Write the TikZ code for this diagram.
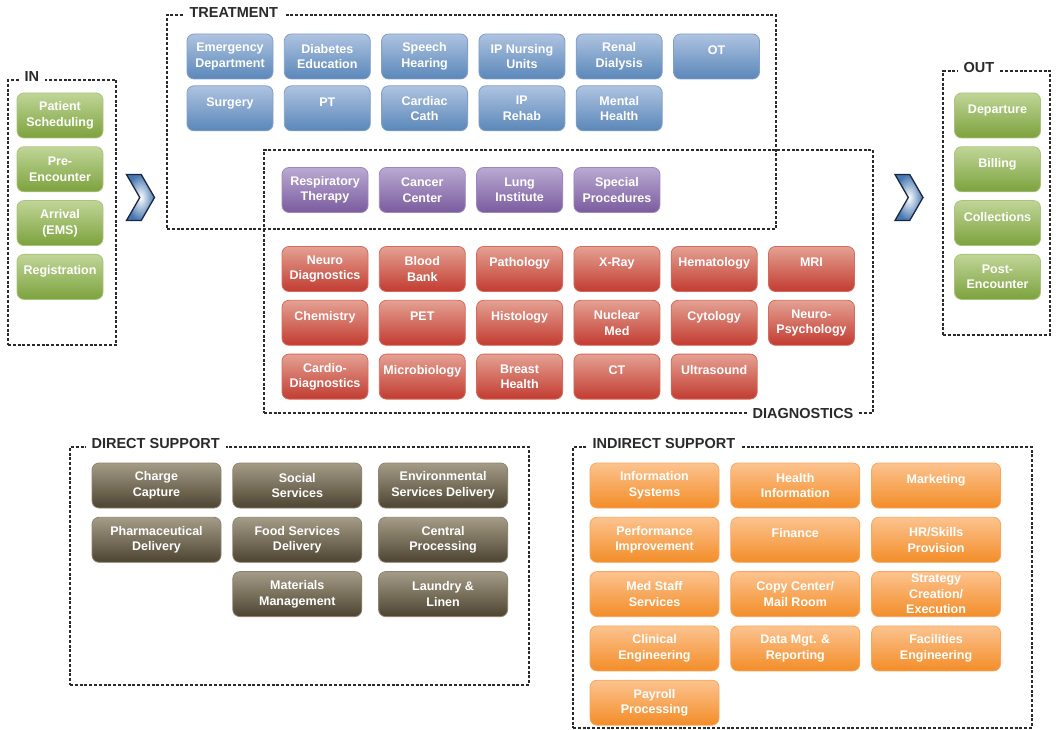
\documentclass[tikz,border=0pt]{standalone}
\usepackage{fontspec}
\setmainfont{Liberation Sans}
\usepackage{xcolor}
\usetikzlibrary{positioning, shapes.symbols}
\definecolor{frameInk}{HTML}{2A2A2A}
\definecolor{inTop}{HTML}{C0D597}
\definecolor{inBot}{HTML}{7CA23D}
\definecolor{inEdge}{HTML}{A9C47B}
\definecolor{trTop}{HTML}{AEC3E0}
\definecolor{trBot}{HTML}{5A87B9}
\definecolor{trEdge}{HTML}{819FCA}
\definecolor{spTop}{HTML}{BAAAD2}
\definecolor{spBot}{HTML}{7A5B9E}
\definecolor{spEdge}{HTML}{9C87BF}
\definecolor{dxTop}{HTML}{E4A193}
\definecolor{dxBot}{HTML}{C23B30}
\definecolor{dxEdge}{HTML}{D66A5E}
\definecolor{dsTop}{HTML}{A59C88}
\definecolor{dsBot}{HTML}{4C4330}
\definecolor{dsEdge}{HTML}{8C8371}
\definecolor{isTop}{HTML}{FCC38F}
\definecolor{isBot}{HTML}{F38D28}
\definecolor{isEdge}{HTML}{F7A75E}
\definecolor{chevBlue}{HTML}{4577B0}
\definecolor{chevInk}{HTML}{1A2740}

\begin{document}
\begin{tikzpicture}[x=1pt, y=-1pt,
        node distance=8pt and 10.5pt,
        unit/.style={rounded corners=7pt, minimum height=45pt, align=center, inner sep=2pt,
          line width=0.8pt, text=white, font=\bfseries\fontsize{12.5}{15.5}\selectfont},
        one/.style={text height=9pt, text depth=13pt},
        inbox/.style={unit, minimum width=86pt, draw=inEdge, top color=inTop, bottom color=inBot},
        trbox/.style={unit, minimum width=86pt, draw=trEdge, top color=trTop, bottom color=trBot},
        spbox/.style={unit, minimum width=86pt, draw=spEdge, top color=spTop, bottom color=spBot},
        dxbox/.style={unit, minimum width=86pt, draw=dxEdge, top color=dxTop, bottom color=dxBot},
        dsbox/.style={unit, minimum width=129pt, draw=dsEdge, top color=dsTop, bottom color=dsBot},
        isbox/.style={unit, minimum width=129pt, draw=isEdge, top color=isTop, bottom color=isBot},
        frame/.style={draw=frameInk, line width=1.2pt, dash pattern=on 3pt off 1.8pt},
        tag/.style={fill=white, inner xsep=6pt, inner ysep=1pt, text=frameInk,
          font=\bfseries\fontsize{14.5}{16}\selectfont},
        chev/.style={signal, signal to=east, signal from=west, signal pointer angle=120,
          minimum width=28pt, minimum height=46pt, inner sep=0pt, draw=chevInk, line width=1.3pt,
          inner color=white, outer color=chevBlue}]
  \useasboundingbox (0,0) rectangle (1058,730);

  \node[frame, minimum width=108pt, minimum height=265pt, inner sep=0pt] (infr) at (62,212.5) {};
  \node[frame, minimum width=107pt, minimum height=264pt, inner sep=0pt] (outfr) at (996.5,203) {};
  \node[frame, minimum width=609pt, minimum height=214pt, inner sep=0pt] (trfr) at (471.5,122) {};
  \node[frame, minimum width=609pt, minimum height=263pt, inner sep=0pt] (dxfr) at (568.5,281.5) {};
  \node[frame, minimum width=459pt, minimum height=238pt, inner sep=0pt] (dsfr) at (299.5,566) {};
  \node[frame, minimum width=459pt, minimum height=281pt, inner sep=0pt] (isfr) at (802.5,587.5) {};

  \node[tag, anchor=base west] (intag) at ([xshift=11pt, yshift=-2pt]infr.north west) {IN};
  \node[tag, anchor=base west] (outtag) at ([xshift=15pt, yshift=-2pt]outfr.north west) {OUT};
  \node[tag, anchor=base west] (trtag) at ([xshift=17pt, yshift=-3pt]trfr.north west) {TREATMENT};
  \node[tag, anchor=base east] (dxtag) at ([xshift=-14pt, yshift=-5pt]dxfr.south east) {DIAGNOSTICS};
  \node[tag, anchor=base west] (dstag) at ([xshift=16pt, yshift=-2.5pt]dsfr.north west) {DIRECT SUPPORT};
  \node[tag, anchor=base west] (istag) at ([xshift=14pt, yshift=-2.5pt]isfr.north west) {INDIRECT SUPPORT};

  \node[chev] (inchev) at (140.5,197.5) {};
  \node[chev] (outchev) at (909,197.5) {};

  \node[inbox] (sched) at (60,115.5) {Patient\\Scheduling};
  \node[inbox, below=of sched] (preenc) {Pre-\\Encounter};
  \node[inbox, below=of preenc] (arrival) {Arrival\\(EMS)};
  \node[inbox, one, below=of arrival] (regist) {Registration};

  \node[inbox, one] (depart) at (997.5,115.5) {Departure};
  \node[inbox, one, below=of depart] (billing) {Billing};
  \node[inbox, one, below=of billing] (collect) {Collections};
  \node[inbox, below=of collect] (postenc) {Post-\\Encounter};

  \node[trbox] (emerg) at (230,56.5) {Emergency\\Department};
  \node[trbox, right=of emerg] (diabetes) {Diabetes\\Education};
  \node[trbox, right=of diabetes] (speech) {Speech\\Hearing};
  \node[trbox, right=of speech] (nursing) {IP Nursing\\Units};
  \node[trbox, right=of nursing] (renal) {Renal\\Dialysis};
  \node[trbox, one, right=of renal] (ot) {OT};
  \node[trbox, one, below=6pt of emerg] (surgery) {Surgery};
  \node[trbox, one, right=of surgery] (pt) {PT};
  \node[trbox, right=of pt] (cardcath) {Cardiac\\Cath};
  \node[trbox, right=of cardcath] (rehab) {IP\\Rehab};
  \node[trbox, right=of rehab] (mental) {Mental\\Health};

  \node[spbox] (resp) at (325,190) {Respiratory\\Therapy};
  \node[spbox, right=of resp] (cancer) {Cancer\\Center};
  \node[spbox, right=of cancer] (lung) {Lung\\Institute};
  \node[spbox, right=of lung] (special) {Special\\Procedures};

  \node[dxbox] (neurodx) at (325,269) {Neuro\\Diagnostics};
  \node[dxbox, right=of neurodx] (blood) {Blood\\Bank};
  \node[dxbox, one, right=of blood] (patho) {Pathology};
  \node[dxbox, one, right=of patho] (xray) {X-Ray};
  \node[dxbox, one, right=of xray] (hemato) {Hematology};
  \node[dxbox, one, right=of hemato] (mri) {MRI};
  \node[dxbox, one, below=of neurodx] (chem) {Chemistry};
  \node[dxbox, one, right=of chem] (pet) {PET};
  \node[dxbox, one, right=of pet] (histo) {Histology};
  \node[dxbox, right=of histo] (nuclear) {Nuclear\\Med};
  \node[dxbox, one, right=of nuclear] (cyto) {Cytology};
  \node[dxbox, right=of cyto] (neuropsy) {Neuro-\\Psychology};
  \node[dxbox, below=of chem] (cardiodx) {Cardio-\\Diagnostics};
  \node[dxbox, one, right=of cardiodx] (micro) {Microbiology};
  \node[dxbox, right=of micro] (breast) {Breast\\Health};
  \node[dxbox, one, right=of breast] (ct) {CT};
  \node[dxbox, one, right=of ct] (ultra) {Ultrasound};

  \node[dsbox] (charge) at (156.5,485.5) {Charge\\Capture};
  \node[dsbox, right=11pt of charge] (social) {Social\\Services};
  \node[dsbox, right=16pt of social] (environ) {Environmental\\Services Delivery};
  \node[dsbox, below=8.5pt of charge] (pharma) {Pharmaceutical\\Delivery};
  \node[dsbox, right=11pt of pharma] (food) {Food Services\\Delivery};
  \node[dsbox, right=16pt of food] (central) {Central\\Processing};
  \node[dsbox, below=8.5pt of food] (material) {Materials\\Management};
  \node[dsbox, below=8.5pt of central] (laundry) {Laundry \&\\Linen};

  \node[isbox] (infosys) at (654.5,485.5) {Information\\Systems};
  \node[isbox, right=11pt of infosys] (healthinfo) {Health\\Information};
  \node[isbox, one, right=11pt of healthinfo] (market) {Marketing};
  \node[isbox, below=8.5pt of infosys] (perform) {Performance\\Improvement};
  \node[isbox, one, right=11pt of perform] (finance) {Finance};
  \node[isbox, right=11pt of finance] (hrskill) {HR/Skills\\Provision};
  \node[isbox, below=8.5pt of perform] (medstaff) {Med Staff\\Services};
  \node[isbox, right=11pt of medstaff] (copy) {Copy Center/\\Mail Room};
  \node[isbox, right=11pt of copy] (strategy) {Strategy\\Creation/\\Execution};
  \node[isbox, below=8.5pt of medstaff] (clinical) {Clinical\\Engineering};
  \node[isbox, right=11pt of clinical] (datamgt) {Data Mgt. \&\\Reporting};
  \node[isbox, right=11pt of datamgt] (facility) {Facilities\\Engineering};
  \node[isbox, below=8.5pt of clinical] (payroll) {Payroll\\Processing};
\end{tikzpicture}
\end{document}
